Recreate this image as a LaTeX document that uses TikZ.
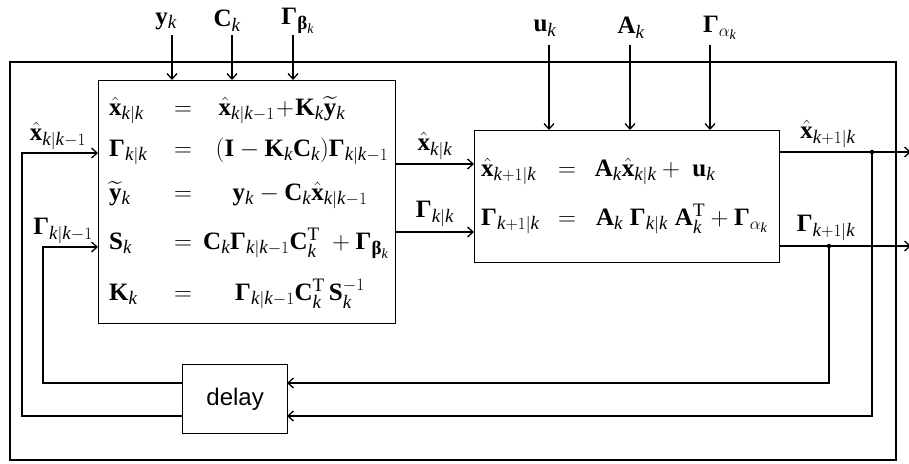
\documentclass[tikz,border=0pt]{standalone}
\usepackage{amsmath}
\usepackage{fontspec}
\setmainfont{Liberation Serif}
\newfontfamily\arialfont{Liberation Sans}
\usetikzlibrary{arrows.meta}
\DeclareMathSizes{25}{25}{19}{14}
\newcommand{\K}{\mathit{k}}
\newcommand{\bG}{\text{\bfseries Γ}}
\newcommand{\bbeta}{\text{\bfseries β}}
\newcommand{\bxh}{\hat{\mathbf{x}}}
\newcommand{\byt}{\widetilde{\mathbf{y}}}
\tikzset{
  eq/.style={inner sep=0pt, font=\fontsize{25}{29}\selectfont},
  lab/.style={inner sep=0pt, font=\fontsize{25}{29}\selectfont},
  box/.style={draw, line width=1.2pt, inner sep=0pt},
  frame/.style={draw, line width=1.8pt},
  arr/.style={line width=1.3pt, -{Straight Barb[length=5.5pt,width=10pt]}},
  dot/.style={circle, fill, inner sep=0pt, minimum size=4.5pt}
}
\begin{document}
\begin{tikzpicture}[x=1pt,y=-1pt]
\useasboundingbox (0,0) rectangle (909,463);
% outer frame
\draw[frame] (10,62) rectangle (896,460);
% boxes
\node[box, anchor=north west, minimum width=297pt, minimum height=243pt] (b1) at (98,80) {};
\node[box, anchor=north west, minimum width=305pt, minimum height=132pt] (b2) at (474,130) {};
\node[box, anchor=north west, minimum width=105pt, minimum height=69pt, font=\arialfont\fontsize{24}{28}\selectfont] (d) at (182,364) {delay};
% box 1 equations
\node[eq, anchor=mid west] (l1) at (109,113) {$\bxh_{\K|\K}$};
\node[eq, anchor=mid] (e1) at (183,113) {$=$};
\node[eq, anchor=mid] (r1) at (282,113) {$\bxh_{\K|\K-1}\!+\!\mathbf{K}_{\K}\byt_{\K}$};
\node[eq, anchor=mid west] (l2) at (109,154) {$\bG_{\K|\K}$};
\node[eq, anchor=mid] (e2) at (183,154) {$=$};
\node[eq, anchor=mid] (r2) at (302,154) {$(\mathbf{I}-\mathbf{K}_{\K}\mathbf{C}_{\K})\bG_{\K|\K-1}$};
\node[eq, anchor=mid west] (l3) at (109,198) {$\byt_{\K}$};
\node[eq, anchor=mid] (e3) at (183,198) {$=$};
\node[eq, anchor=mid] (r3) at (300,198) {$\mathbf{y}_{\K}-\mathbf{C}_{\K}\bxh_{\K|\K-1}$};
\node[eq, anchor=mid west] (l4) at (109,247) {$\mathbf{S}_{\K}$};
\node[eq, anchor=mid] (e4) at (183,247) {$=$};
\node[eq, anchor=mid] (r4) at (296,247) {$\mathbf{C}_{\K}\bG_{\K|\K-1}\mathbf{C}_{\K}^{\mathrm{T}}\;+\bG_{\bbeta_{\K}}$};
\node[eq, anchor=mid west] (l5) at (109,298) {$\mathbf{K}_{\K}$};
\node[eq, anchor=mid] (e5) at (183,298) {$=$};
\node[eq, anchor=mid] (r5) at (300,298) {$\bG_{\K|\K-1}\mathbf{C}_{\K}^{\mathrm{T}}\,\mathbf{S}_{\K}^{-1}$};
% box 2 equations
\node[eq, anchor=mid west] (m1) at (481,174) {$\bxh_{\K+1|\K}$};
\node[eq, anchor=mid] (f1) at (567,174) {$=$};
\node[eq, anchor=mid] (s1) at (655,174) {$\mathbf{A}_{\K}\bxh_{\K|\K}+\;\mathbf{u}_{\K}$};
\node[eq, anchor=mid west] (m2) at (481,223) {$\bG_{\K+1|\K}$};
\node[eq, anchor=mid] (f2) at (567,223) {$=$};
\node[eq, anchor=mid] (s2) at (682,223) {$\mathbf{A}_{\K}\;\bG_{\K|\K}\;\mathbf{A}_{\K}^{\mathrm{T}}+\bG_{\alpha_{\K}}$};
% top inputs
\node[lab] (ty) at (166,21) {$\mathbf{y}_{\K}$};
\node[lab] (tc) at (227,21) {$\mathbf{C}_{\K}$};
\node[lab] (tb) at (298,21) {$\bG_{\bbeta_{\K}}$};
\node[lab] (tu) at (545,28) {$\mathbf{u}_{\K}$};
\node[lab] (ta) at (631,28) {$\mathbf{A}_{\K}$};
\node[lab] (tg) at (720,28) {$\bG_{\alpha_{\K}}$};
\coordinate (sy) at (172,35);
\coordinate (sc) at (232,35);
\coordinate (sb) at (293,35);
\coordinate (su) at (549,45);
\coordinate (sa) at (630,45);
\coordinate (sg) at (710,45);
\draw[arr] (sy) -- (sy |- b1.north);
\draw[arr] (sc) -- (sc |- b1.north);
\draw[arr] (sb) -- (sb |- b1.north);
\draw[arr] (su) -- (su |- b2.north);
\draw[arr] (sa) -- (sa |- b2.north);
\draw[arr] (sg) -- (sg |- b2.north);
% box1 -> box2
\coordinate (o1) at (395,164);
\coordinate (o2) at (395,232);
\draw[arr] (o1) -- (o1 -| b2.west);
\draw[arr] (o2) -- (o2 -| b2.west);
\node[lab] (lxo) at (435,146) {$\bxh_{\K|\K}$};
\node[lab] (lgo) at (435,214) {$\bG_{\K|\K}$};
% outputs
\coordinate (p1) at (779,152);
\coordinate (p2) at (779,246);
\coordinate (q1) at (911,152);
\coordinate (q2) at (911,246);
\draw[arr] (p1) -- (q1);
\draw[arr] (p2) -- (q2);
\node[lab] (lxp) at (828,134) {$\bxh_{\K+1|\K}$};
\node[lab] (lgp) at (826,228) {$\bG_{\K+1|\K}$};
\node[dot] (dx) at (872,152) {};
\node[dot] (dg) at (829,246) {};
% feedback
\coordinate (dgin) at (287,383);
\coordinate (dxin) at (287,416);
\coordinate (dgout) at (182,383);
\coordinate (dxout) at (182,416);
\draw[arr] (dg.center) |- (dgin);
\draw[arr] (dx.center) |- (dxin);
\coordinate (gc) at (43,247);
\coordinate (xc) at (22,153);
\draw[arr] (dgout) -| (gc) -- (gc -| b1.west);
\draw[arr] (dxout) -| (xc) -- (xc -| b1.west);
\node[lab] (lxi) at (58,136) {$\bxh_{\K|\K-1}$};
\node[lab] (lgi) at (63,231) {$\bG_{\K|\K-1}$};
\end{tikzpicture}
\end{document}
